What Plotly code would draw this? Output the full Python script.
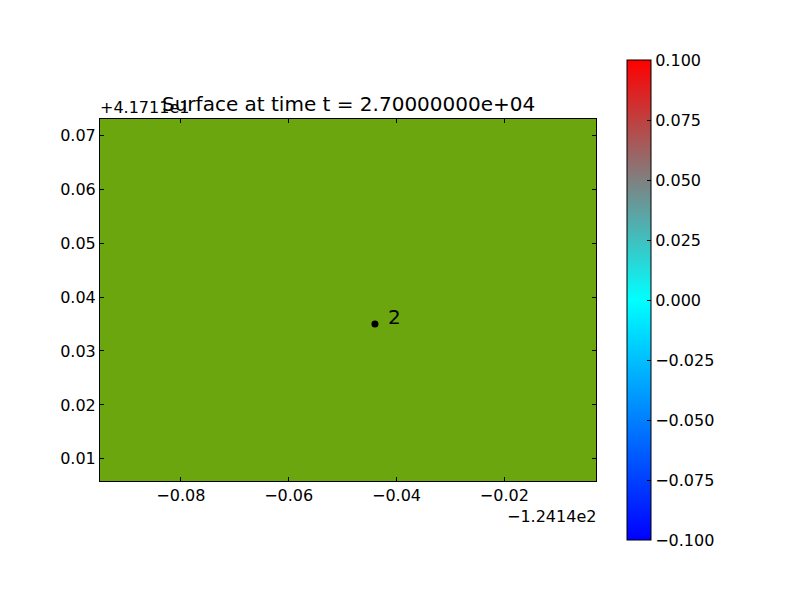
import plotly.graph_objects as go

# ---- data ----
x_offset_label = "\u22121.2414e2"
y_offset_label = "+4.1711e1"
title_text = "Surface at time t = 2.70000000e+04"

x_range = [-0.095, -0.003]          # relative to -124.14
y_range = [0.0059, 0.073]           # relative to 41.711
land_x = [-0.1, 0.0]
land_y = [0.0, 0.08]
land_z = [[1, 1], [1, 1]]

gauge_x = [-0.044]
gauge_y = [0.035]
gauge_labels = ["2"]

cbar_min, cbar_max = -0.1, 0.1
cbar_ticks = [-0.1, -0.075, -0.05, -0.025, 0.0, 0.025, 0.05, 0.075, 0.1]
x_ticks = [-0.08, -0.06, -0.04, -0.02]
y_ticks = [0.01, 0.02, 0.03, 0.04, 0.05, 0.06, 0.07]

land_color = "#6ca60e"
surface_colorscale = [
    [0.0, "#0000ff"],
    [0.5, "#00ffff"],
    [0.75, "#808080"],
    [1.0, "#ff0000"],
]

FONT = "DejaVu Sans"

fig = go.Figure()

fig.add_trace(go.Heatmap(
    x=land_x, y=land_y, z=land_z,
    colorscale=[[0, land_color], [1, land_color]],
    showscale=False, hoverinfo="skip", zsmooth=False,
))

fig.add_trace(go.Scatter(
    x=gauge_x, y=gauge_y, mode="markers",
    marker=dict(color="black", size=7),
    hoverinfo="skip", showlegend=False,
))

# invisible trace carrying the colorbar
fig.add_trace(go.Scatter(
    x=gauge_x * 2, y=gauge_y * 2, mode="markers",
    marker=dict(
        size=0, opacity=0,
        color=[cbar_min, cbar_max], cmin=cbar_min, cmax=cbar_max,
        colorscale=surface_colorscale, showscale=True,
        colorbar=dict(
            x=1.0625, xanchor="left", xpad=0,
            y=0.5, yanchor="middle", ypad=0,
            thickness=24, lenmode="pixels", len=480,
            outlinecolor="black", outlinewidth=1,
            tickvals=cbar_ticks, tickformat=".3f",
            ticks="inside", ticklen=4, tickcolor="black",
            tickfont=dict(family=FONT, size=16, color="black"),
        ),
    ),
    hoverinfo="skip", showlegend=False,
))

for gx, gy, lab in zip(gauge_x, gauge_y, gauge_labels):
    fig.add_annotation(
        x=gx, y=gy, text=lab, showarrow=False,
        xanchor="left", yanchor="middle", xshift=11, yshift=7,
        font=dict(family=FONT, size=20, color="black"),
    )

axis_common = dict(
    showgrid=False, zeroline=False,
    showline=True, linecolor="black", linewidth=1, mirror="allticks",
    ticks="inside", ticklen=4, tickcolor="black",
    tickfont=dict(family=FONT, size=16, color="black"),
)

fig.update_xaxes(range=x_range, tickvals=x_ticks, tickformat=".2f", **axis_common)
fig.update_yaxes(range=y_range, tickvals=y_ticks, tickformat=".2f", **axis_common)

fig.add_annotation(
    xref="paper", yref="paper", x=0.5, y=1, yanchor="bottom", xanchor="center",
    yshift=1, text=title_text, showarrow=False,
    font=dict(family=FONT, size=20, color="black"),
)
fig.add_annotation(
    xref="paper", yref="paper", x=0, y=1, yanchor="bottom", xanchor="left",
    yshift=0, xshift=-2, text=y_offset_label, showarrow=False,
    font=dict(family=FONT, size=16, color="black"),
)
fig.add_annotation(
    xref="paper", yref="paper", x=1, y=0, yanchor="top", xanchor="right",
    yshift=-24, xshift=2, text=x_offset_label, showarrow=False,
    font=dict(family=FONT, size=16, color="black"),
)

fig.update_layout(
    width=792, height=592,
    margin=dict(l=92, r=204, t=111, b=119),
    paper_bgcolor="white", plot_bgcolor="white",
    showlegend=False,
    font=dict(family=FONT, color="black"),
)

fig.write_html("out.html")
